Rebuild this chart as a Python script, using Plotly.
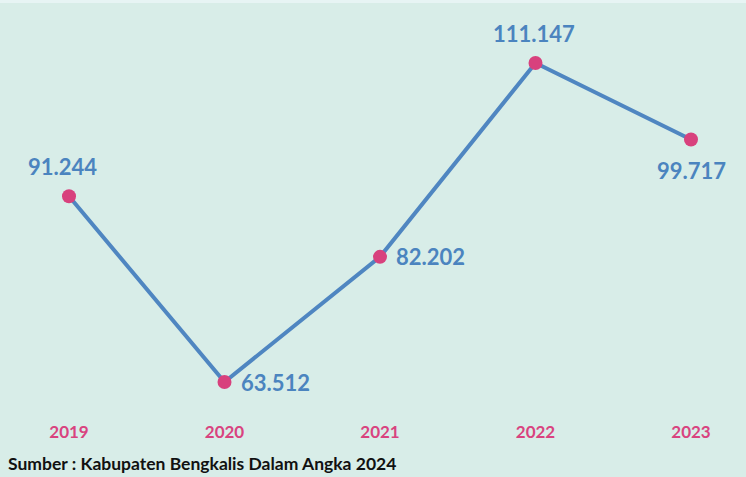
import plotly.graph_objects as go

years = ["2019", "2020", "2021", "2022", "2023"]
values = [91.244, 63.512, 82.202, 111.147, 99.717]
value_labels = ["91.244", "63.512", "82.202", "111.147", "99.717"]

BG = "#d8ede8"
LINE = "#4f86c1"
MARK = "#d8417d"
TXT = "#4b84bf"
TICK = "#d9437f"
FONT = "Lato"

W, H = 746, 477
MB = 67
xi = list(range(len(years)))

fig = go.Figure()
fig.add_trace(go.Scatter(
    x=xi, y=values, mode="lines+markers",
    line=dict(color=LINE, width=4),
    marker=dict(color=MARK, size=14),
    hoverinfo="skip", showlegend=False,
))

# label offsets (styling only)
offsets = [(-7, 30), (14, 0), (14, 0), (-2, 30), (0, -31)]
anchors = ["center", "left", "left", "center", "center"]
for i, (v, lab) in enumerate(zip(values, value_labels)):
    dx, dy = offsets[i]
    fig.add_annotation(x=xi[i], y=v, text=f"<b>{lab}</b>", showarrow=False,
                       xanchor=anchors[i], yanchor="middle", xshift=dx, yshift=dy,
                       font=dict(family=FONT, size=22, color=TXT))

fig.add_annotation(xref="paper", yref="paper", x=0, y=0, xshift=6, yshift=-53,
                   xanchor="left", yanchor="middle", showarrow=False,
                   text="<b>Sumber : Kabupaten Bengkalis Dalam Angka 2024</b>",
                   font=dict(family=FONT, size=17.5, color="#111111"))

# top lighter strip
fig.add_shape(type="rect", xref="paper", yref="paper", x0=0, x1=1,
              y0=1 - 3 / (H - MB), y1=1, fillcolor="#e7f4f4", line=dict(width=0), layer="below")

px_per_cat = 155.5
x0 = 69
fig.update_xaxes(range=[-x0 / px_per_cat, 4 + (W - x0 - 4 * px_per_cat) / px_per_cat],
                 tickmode="array", tickvals=xi, ticktext=[f"<b>{y}</b>" for y in years],
                 tickfont=dict(family=FONT, size=17, color=TICK),
                 showgrid=False, zeroline=False, showline=False, ticks="",
                 ticklabelstandoff=10)

# y scale: 63.512 -> 382 px, 111.147 -> 63 px
ppu = (382 - 63) / (111.147 - 63.512)
ytop = 63.512 + 382 / ppu
ybot = 63.512 - (H - MB - 382) / ppu
fig.update_yaxes(range=[ybot, ytop], visible=False, showgrid=False, zeroline=False)

fig.update_layout(width=W, height=H, margin=dict(l=0, r=0, t=0, b=MB),
                  paper_bgcolor=BG, plot_bgcolor=BG,
                  font=dict(family=FONT))
fig.write_html("out.html", config={"displayModeBar": False})

with open("out.html", "r", encoding="utf-8") as f:
    html = f.read()
html = html.replace("<body>", '<body style="margin:0;overflow:hidden">', 1)
with open("out.html", "w", encoding="utf-8") as f:
    f.write(html)
